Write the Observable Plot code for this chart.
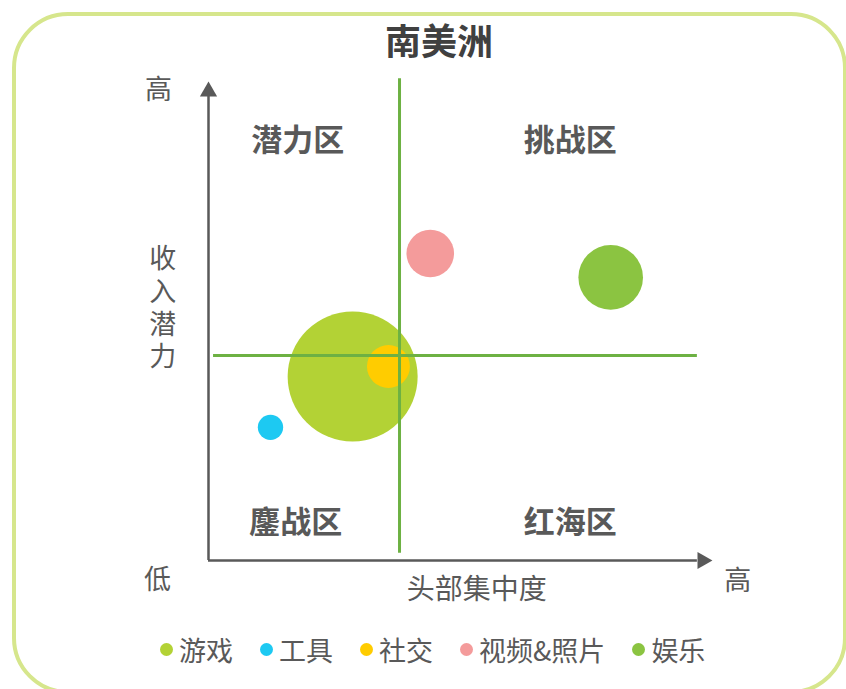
<!DOCTYPE html>
<html>
<head>
<meta charset="utf-8">
<script src="https://cdn.jsdelivr.net/npm/d3@7"></script>
<script src="https://cdn.jsdelivr.net/npm/@observablehq/plot@0.6"></script>
<style>
  body { margin: 0; background: #fff; }
  #wrap { position: relative; width: 846px; height: 689px; overflow: hidden; font-family: "Noto Sans CJK SC", sans-serif; }
  #frame { position: absolute; left: 12px; top: 12px; width: 827px; height: 674px; border: 4px solid #d6e68c; border-radius: 56px; }
  #title { position: absolute; left: 0; width: 878px; top: 18px; text-align: center; font-weight: bold; font-size: 36px; line-height: 42px; color: #404040; }
  #chart { position: absolute; left: 0; top: 0; }
  #legend { position: absolute; left: 160px; top: 633px; height: 32px; display: flex; align-items: center; font-size: 27px; color: #595959; }
  .item { display: flex; align-items: center; margin-right: 27px; white-space: nowrap; }
  .dot { width: 13px; height: 13px; border-radius: 50%; margin-right: 6px; }
</style>
</head>
<body>
<div id="wrap">
  <div id="frame"></div>
  <div id="chart"></div>
  <div id="title"></div>
  <div id="legend"></div>
</div>
<script>
// ---- data ----
const titleText = "南美洲";
const categories = ["游戏", "工具", "社交", "视频&照片", "娱乐"];
const concentration = [28.6, 12.3, 35.7, 44.0, 79.8];      // 头部集中度
const revenuePotential = [38.4, 27.8, 40.5, 64.1, 59.1];   // 收入潜力
const marketSize = [100, 3.8, 10.9, 13.4, 24.7];
const colors = ["#b3d235", "#1dc9f2", "#ffcc00", "#f49b9b", "#8bc441"];
const quadrantNames = ["潜力区", "挑战区", "鏖战区", "红海区"];
const xAxisName = "头部集中度";
const yAxisName = "收入潜力";
const lowLabel = "低";
const highLabel = "高";
const xSplit = 37.9;
const ySplit = 42.8;

// ---- layout (data units) ----
const quadX = [17.7, 71.8, 17.3, 71.8];
const quadY = [87.6, 87.6, 7.9, 7.9];

const bubbles = categories.map((c, i) => ({
  category: c, x: concentration[i], y: revenuePotential[i], size: marketSize[i]
}));

const axisColor = "#595959";
const splitColor = "#6db143";
const textColor = "#595959";

const chart = Plot.plot({
  width: 846,
  height: 689,
  marginLeft: 208,
  marginRight: 134,
  marginTop: 81,
  marginBottom: 129,
  x: { domain: [0, 100], axis: null },
  y: { domain: [0, 100], axis: null },
  r: { type: "sqrt", domain: [0, 100], range: [0, 65] },
  color: { domain: categories, range: colors },
  style: { fontFamily: '"Noto Sans CJK SC", sans-serif', background: "transparent", overflow: "visible" },
  marks: [
    Plot.dot(bubbles, { x: "x", y: "y", r: "size", fill: "category", sort: null }),
    Plot.ruleX([xSplit], { y1: 1.5, y2: 100.6, stroke: splitColor, strokeWidth: 3 }),
    Plot.ruleY([ySplit], { x1: 1, x2: 97, stroke: splitColor, strokeWidth: 3 }),
    Plot.ruleX([0], { y1: 0, y2: 97, stroke: axisColor, strokeWidth: 2.5 }),
    Plot.ruleY([0], { x1: 0, x2: 97, stroke: axisColor, strokeWidth: 2.5 }),
    Plot.dot([0], { x: () => 0, y: () => 100, symbol: "triangle", r: 6.4, fill: axisColor, dy: 10 }),
    Plot.dot([0], { x: () => 100, y: () => 0, symbol: "triangle", r: 6.4, fill: axisColor, dx: -10, rotate: 90 }),
    Plot.text(quadrantNames, { x: quadX, y: quadY, text: d => d, fontSize: 31, fontWeight: "bold", fill: textColor }),
    Plot.text([highLabel], { x: [-9.9], y: [98.1], text: d => d, fontSize: 27, fill: textColor }),
    Plot.text([lowLabel], { x: [-10.1], y: [-4.2], text: d => d, fontSize: 27, fill: textColor }),
    Plot.text([highLabel], { x: [105], y: [-4.4], text: d => d, fontSize: 27, fill: textColor }),
    Plot.text([xAxisName], { x: [53.2], y: [-6.1], text: d => d, fontSize: 28, fill: textColor }),
    Plot.text([yAxisName], { x: [-9.1], y: [54.1], text: d => d, fontSize: 27, fill: textColor })
  ]
});
// vertical writing for the y-axis name
d3.select(chart).selectAll("text")
  .filter(function () { return this.textContent === yAxisName; })
  .style("writing-mode", "vertical-rl")
  .style("letter-spacing", "5.7px")
  .attr("dy", null)
  .attr("dominant-baseline", "central");
document.getElementById("chart").appendChild(chart);

document.getElementById("title").textContent = titleText;

const legend = document.getElementById("legend");
categories.forEach((c, i) => {
  const item = document.createElement("div");
  item.className = "item";
  const dot = document.createElement("span");
  dot.className = "dot";
  dot.style.background = colors[i];
  const label = document.createElement("span");
  label.textContent = c;
  item.appendChild(dot);
  item.appendChild(label);
  legend.appendChild(item);
});
</script>
</body>
</html>
